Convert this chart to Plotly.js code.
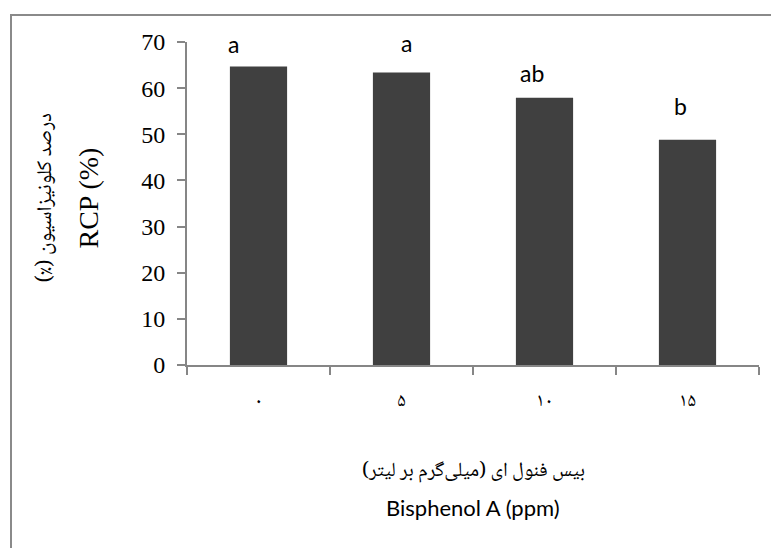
<!DOCTYPE html>
<html>
<head>
<meta charset="utf-8">
<script src="https://cdn.plot.ly/plotly-3.0.1.min.js"></script>
<style>
  html, body { margin: 0; padding: 0; background: #fff; }
  #chart { width: 771px; height: 548px; position: absolute; left: 0; top: 0; }
  #frame { position: absolute; left: 10px; top: 14px; width: 780px; height: 560px;
           border-left: 2px solid #8a8a8a; border-top: 2px solid #8a8a8a; pointer-events: none; }
</style>
</head>
<body>
<div id="chart"></div>
<div id="frame"></div>
<script>
// Data
const categories = ["۰", "۵", "۱۰", "۱۵"];
const rcpValues = [64.7, 63.4, 57.9, 48.8];
const groupLetters = ["a", "a", "ab", "b"];
const yTickValues = [0, 10, 20, 30, 40, 50, 60, 70];

const RLM = "\u200F";
const yTitleFa = "درصد کلونیزاسیون (٪)";
const yTitleEn = "RCP (%)";
const xTitleFa = "بیس فنول ای (میلی‌گرم بر لیتر)";
const xTitleEn = "Bisphenol A (ppm)";

// label offsets (pixels) - styling only
const letterXShift = [-25, 5, -13, -7];
const letterYShift = [6, 13, 9, 18];

const faFont = "'Noto Naskh Arabic', 'Amiri', 'Noto Sans Arabic', 'DejaVu Sans', sans-serif";

const trace = {
  type: "bar",
  x: categories,
  y: rcpValues,
  width: 0.4,
  marker: { color: "#404040", line: { width: 0 } },
  hoverinfo: "x+y"
};

const annotations = groupLetters.map((t, i) => ({
  x: categories[i], y: rcpValues[i], xref: "x", yref: "y",
  text: t, showarrow: false, xanchor: "center", yanchor: "bottom",
  xshift: letterXShift[i], yshift: letterYShift[i],
  font: { family: "Lato, 'Open Sans', sans-serif", size: 23, color: "#000" }
}));

annotations.push(
  { x: 0, y: 0.5, xref: "paper", yref: "paper", text: RLM + yTitleFa + RLM, textangle: -90,
    showarrow: false, xanchor: "center", yanchor: "middle", xshift: -141, yshift: 6,
    font: { family: faFont, size: 21, color: "#000" } },
  { x: 0, y: 0.5, xref: "paper", yref: "paper", text: yTitleEn, textangle: -90,
    showarrow: false, xanchor: "center", yanchor: "middle", xshift: -99, yshift: 5,
    font: { family: "'Liberation Serif', 'Times New Roman', serif", size: 28, color: "#000" } },
  { x: 0.5, y: 0, xref: "paper", yref: "paper", text: RLM + xTitleFa + RLM,
    showarrow: false, xanchor: "center", yanchor: "middle", yshift: -107,
    font: { family: faFont, size: 20, color: "#000" } },
  { x: 0.5, y: 0, xref: "paper", yref: "paper", text: xTitleEn,
    showarrow: false, xanchor: "center", yanchor: "middle", yshift: -142,
    font: { family: "Lato, 'Open Sans', sans-serif", size: 22, color: "#000" } }
);

const layout = {
  width: 771, height: 548,
  margin: { l: 187, r: 12, t: 42, b: 183, pad: 0 },
  paper_bgcolor: "#fff", plot_bgcolor: "#fff",
  showlegend: false,
  bargap: 0.6,
  xaxis: {
    type: "category",
    showline: true, linecolor: "#868686", linewidth: 2,
    ticks: "outside", tickson: "boundaries", ticklen: 8, tickcolor: "#868686", tickwidth: 2,
    showgrid: false, zeroline: false,
    ticklabelstandoff: 16,
    tickfont: { family: faFont, size: 19, color: "#000" }
  },
  yaxis: {
    range: [0, 70],
    tickvals: yTickValues,
    showline: true, linecolor: "#868686", linewidth: 2,
    ticks: "outside", ticklen: 8, tickcolor: "#868686", tickwidth: 2,
    showgrid: false, zeroline: false,
    ticklabelstandoff: 7,
    tickfont: { family: "'Liberation Serif', 'Times New Roman', serif", size: 24, color: "#000" }
  },
  annotations: annotations
};

Plotly.newPlot("chart", [trace], layout, { staticPlot: true, displayModeBar: false });
</script>
</body>
</html>
